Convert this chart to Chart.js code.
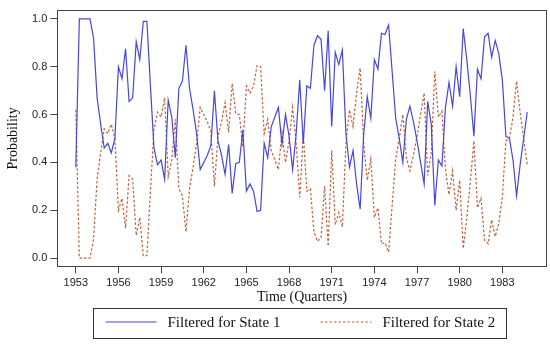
<!DOCTYPE html>
<html>
<head>
<meta charset="utf-8">
<script src="https://cdn.jsdelivr.net/npm/chart.js@4.4.1/dist/chart.umd.min.js"></script>
<style>
    html, body { margin: 0; padding: 0; background: #fff; }
    #chart { display: block; }
</style>
</head>
<body>
<canvas id="chart" width="550" height="345"></canvas>
<script>
// Filtered probabilities, quarterly from 1953Q1
const startYear = 1953;
const state1 = [
    0.38, 1.00, 1.00, 1.00, 1.00, 0.92, 0.67, 0.56, 0.46, 0.48, 0.44, 0.50,
    0.80, 0.75, 0.875, 0.655, 0.67, 0.905, 0.83, 0.99, 0.99, 0.72, 0.46, 0.39,
    0.41, 0.33, 0.66, 0.59, 0.42, 0.71, 0.74, 0.89, 0.71, 0.62, 0.52, 0.37,
    0.40, 0.43, 0.47, 0.70, 0.49, 0.43, 0.35, 0.475, 0.27, 0.395, 0.40, 0.535,
    0.28, 0.31, 0.28, 0.195, 0.20, 0.48, 0.42, 0.55, 0.59, 0.63, 0.475, 0.60,
    0.51, 0.37, 0.52, 0.745, 0.48, 0.72, 0.71, 0.89, 0.93, 0.915, 0.70, 0.95,
    0.55, 0.86, 0.81, 0.87, 0.52, 0.38, 0.45, 0.31, 0.205, 0.52, 0.675, 0.585,
    0.83, 0.79, 0.94, 0.935, 0.975, 0.78, 0.585, 0.50, 0.40, 0.58, 0.635, 0.57,
    0.49, 0.40, 0.31, 0.655, 0.56, 0.22, 0.41, 0.385, 0.63, 0.735, 0.635, 0.80,
    0.675, 0.96, 0.83, 0.68, 0.51, 0.79, 0.75, 0.925, 0.94, 0.84, 0.91, 0.855,
    0.745, 0.51, 0.50, 0.41, 0.26, 0.39, 0.50, 0.61
];
const state2 = [
    0.62, 0.00, 0.00, 0.00, 0.00, 0.08, 0.33, 0.44, 0.54, 0.52, 0.56, 0.50,
    0.20, 0.25, 0.125, 0.345, 0.33, 0.095, 0.17, 0.01, 0.01, 0.28, 0.54, 0.61,
    0.59, 0.67, 0.34, 0.41, 0.58, 0.29, 0.26, 0.11, 0.29, 0.38, 0.48, 0.63,
    0.60, 0.57, 0.53, 0.30, 0.51, 0.57, 0.65, 0.525, 0.73, 0.605, 0.60, 0.465,
    0.72, 0.69, 0.72, 0.805, 0.80, 0.52, 0.58, 0.45, 0.41, 0.37, 0.525, 0.40,
    0.49, 0.63, 0.48, 0.255, 0.52, 0.28, 0.29, 0.11, 0.07, 0.085, 0.30, 0.05,
    0.45, 0.14, 0.19, 0.13, 0.48, 0.62, 0.55, 0.69, 0.795, 0.48, 0.325, 0.415,
    0.17, 0.21, 0.06, 0.065, 0.025, 0.22, 0.415, 0.50, 0.60, 0.42, 0.365, 0.43,
    0.51, 0.60, 0.69, 0.345, 0.44, 0.78, 0.59, 0.615, 0.37, 0.265, 0.365, 0.20,
    0.325, 0.04, 0.17, 0.32, 0.49, 0.21, 0.25, 0.075, 0.06, 0.16, 0.09, 0.145,
    0.255, 0.49, 0.50, 0.59, 0.74, 0.61, 0.50, 0.39
];
const xTicks = [1953, 1956, 1959, 1962, 1965, 1968, 1971, 1974, 1977, 1980, 1983];
const yTicks = [0, 0.2, 0.4, 0.6, 0.8, 1.0];
const seriesNames = ['Filtered for State 1', 'Filtered for State 2'];

// time index for each quarter
const quarters = state1.map((_, i) => startYear + i / 4);

const axisColor = '#444';
const tickFont = { family: '"Liberation Sans", Arial, sans-serif', size: 11 };
const serifFamily = '"Liberation Serif", "Times New Roman", serif';

// Box round the plot area
const frameBox = {
    id: 'frameBox',
    afterDraw(chart) {
        const { ctx, chartArea: a } = chart;
        ctx.save();
        ctx.strokeStyle = axisColor;
        ctx.lineWidth = 1;
        const l = Math.round(a.left) + 0.5, t = Math.round(a.top) + 0.5;
        const r = Math.round(a.right) - 0.5, b = Math.round(a.bottom) - 0.5;
        ctx.strokeRect(l, t, r - l, b - t);
        ctx.restore();
    }
};

// Boxed legend below the axis title
const boxedLegend = {
    id: 'boxedLegend',
    afterDraw(chart) {
        const { ctx, chartArea: a } = chart;
        const lineLen = 51, gap = 11, itemGap = 40, padL = 12, padR = 11;
        ctx.save();
        ctx.font = '15px ' + serifFamily;
        const items = chart.data.datasets.map(ds => ({ ds, w: ctx.measureText(ds.label).width }));
        let total = padL + padR + itemGap * (items.length - 1);
        items.forEach(it => { total += lineLen + gap + it.w; });
        const cx = (a.left + a.right) / 2 - 3;
        const top = Math.round(a.bottom + 41) + 0.5;
        const h = 30;
        let x = Math.round(cx - total / 2) + 0.5;
        ctx.strokeStyle = '#333';
        ctx.lineWidth = 1;
        ctx.strokeRect(x, top, Math.round(total), h);
        const midY = top + h / 2 - 1.5;
        x += padL;
        items.forEach(it => {
            ctx.beginPath();
            ctx.strokeStyle = it.ds.borderColor;
            ctx.lineWidth = it.ds.borderWidth;
            ctx.setLineDash(it.ds.borderDash || []);
            ctx.moveTo(x, midY);
            ctx.lineTo(x + lineLen, midY);
            ctx.stroke();
            ctx.setLineDash([]);
            x += lineLen + gap;
            ctx.fillStyle = '#111';
            ctx.textBaseline = 'middle';
            ctx.textAlign = 'left';
            ctx.fillText(it.ds.label, x, midY + 1);
            x += it.w + itemGap;
        });
        ctx.restore();
    }
};

const chart = new Chart(document.getElementById('chart'), {
    type: 'line',
    data: {
        labels: quarters,
        datasets: [
            {
                label: seriesNames[0],
                data: state1,
                borderColor: '#4646dc',
                borderWidth: 1.2,
                pointRadius: 0,
                tension: 0,
                fill: false
            },
            {
                label: seriesNames[1],
                data: state2,
                borderColor: '#c0603c',
                borderWidth: 1.2,
                borderDash: [2.5, 2],
                pointRadius: 0,
                tension: 0,
                fill: false
            }
        ]
    },
    options: {
        responsive: false,
        animation: false,
        devicePixelRatio: 1,
        layout: { padding: { top: 7.3, right: 3.3, left: 0, bottom: 37.7 } },
        plugins: {
            legend: { display: false },
            tooltip: { enabled: false }
        },
        scales: {
            x: {
                type: 'linear',
                min: 1951.7,
                max: 1986.12,
                afterBuildTicks: axis => { axis.ticks = xTicks.map(v => ({ value: v })); },
                afterFit: axis => { axis.height = 40; },
                grid: { drawOnChartArea: false, drawTicks: true, tickLength: 6, color: axisColor },
                border: { display: false },
                ticks: {
                    autoSkip: false,
                    maxRotation: 0,
                    padding: 3,
                    color: '#222',
                    font: tickFont,
                    callback: v => String(v)
                },
                title: {
                    display: true,
                    text: 'Time (Quarters)',
                    color: '#111',
                    font: { family: serifFamily, size: 14 },
                    padding: { top: 0, bottom: 1.5 }
                }
            },
            y: {
                min: -0.0385,
                max: 1.039,
                afterBuildTicks: axis => { axis.ticks = yTicks.map(v => ({ value: v })); },
                afterFit: axis => { axis.width = 57.3; },
                grid: { drawOnChartArea: false, drawTicks: true, tickLength: 7, color: axisColor },
                border: { display: false },
                ticks: {
                    padding: 3,
                    color: '#222',
                    font: tickFont,
                    callback: v => v.toFixed(1)
                },
                title: {
                    display: true,
                    text: 'Probability',
                    color: '#111',
                    font: { family: serifFamily, size: 14 },
                    padding: { top: 5, bottom: 0 }
                }
            }
        }
    },
    plugins: [frameBox, boxedLegend]
});
</script>
</body>
</html>
